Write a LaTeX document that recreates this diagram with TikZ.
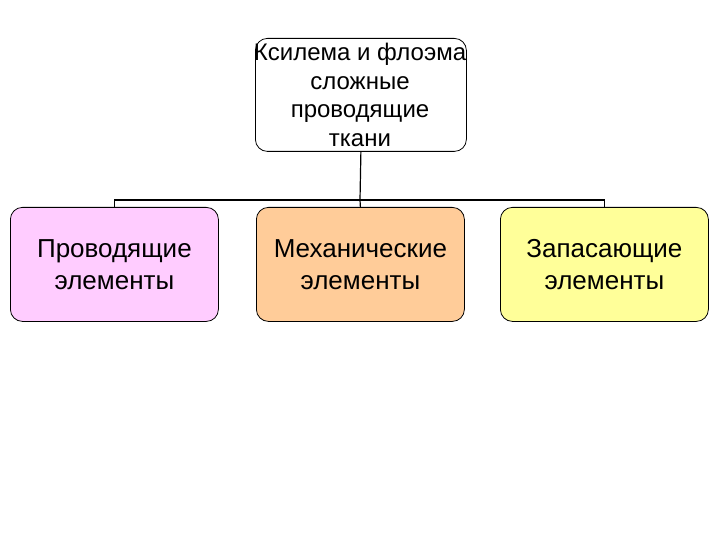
\documentclass[tikz,border=0pt]{standalone}
\usepackage{fontspec}
\setmainfont{Liberation Sans}
\begin{document}
\begin{tikzpicture}[x=1pt,y=-1pt,
  box/.style={draw=black,rounded corners=12pt,line width=0.8pt,minimum width=208pt,minimum height=114pt,align=center,font=\fontsize{26}{32}\selectfont,anchor=north west},
  conn/.style={draw=black,line width=1.2pt}]
\useasboundingbox (0,0) rectangle (720,540);
\node[box,minimum width=211pt,minimum height=113pt] (top) at (255,38) {};
\node[align=center,font=\fontsize{24}{28.5}\selectfont,inner sep=0pt] (toptext) at (360,95) {Ксилема и флоэма\\сложные\\проводящие\\ткани};
\node[box,fill={rgb,255:red,255;green,204;blue,255}] (a) at (10,207) {Проводящие\\ элементы};
\node[box,fill={rgb,255:red,255;green,204;blue,153}] (b) at (256,207) {Механические\\ элементы};
\node[box,fill={rgb,255:red,255;green,255;blue,153}] (c) at (500,207) {Запасающие\\ элементы};
\coordinate (j) at (360,200);
\draw[conn] (top.south) -- (j);
\draw[conn] (a.north) -- (a.north |- j) -- (c.north |- j) -- (c.north);
\draw[conn] (j) -- (b.north);
\end{tikzpicture}
\end{document}
